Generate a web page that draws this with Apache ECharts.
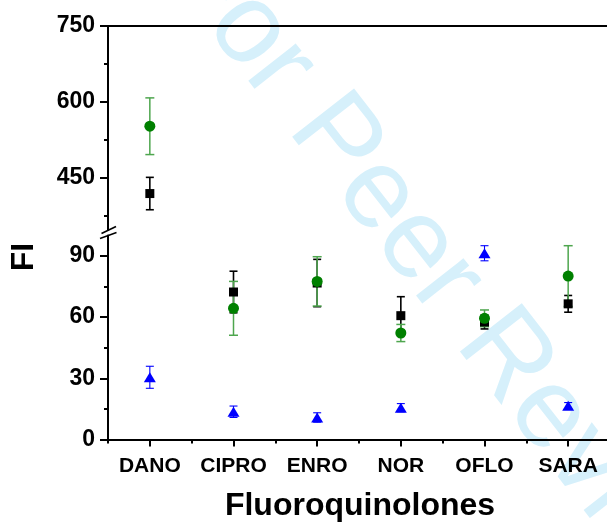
<!DOCTYPE html>
<html>
<head>
<meta charset="utf-8">
<script src="https://cdn.jsdelivr.net/npm/echarts@6/dist/echarts.min.js"></script>
<style>
  html, body { margin: 0; padding: 0; background: #fff; }
  #chart { width: 607px; height: 523px; }
</style>
</head>
<body>
<div id="chart"></div>
<script>
// data
const categories = ['DANO', 'CIPRO', 'ENRO', 'NOR', 'OFLO', 'SARA'];
const blackMean = [419, 72.3, 76.7, 60.7, 57.6, 66.5];
const blackErr = [32, 10.2, 11.6, 9.3, 3.4, 4.1];
const greenMean = [552, 64.3, 77.5, 52.2, 59.4, 80.1];
const greenErr = [56, 13.2, 12.1, 4.2, 4.1, 14.9];
const blueMean = [30.5, 13.6, 10.8, 15.6, 91.3, 16.6];
const blueErr = [5.4, 2.8, 2.3, 2.0, 3.7, 1.5];

const upperTicks = [450, 600, 750];
const upperMinor = [375, 525, 675];
const lowerTicks = [0, 30, 60, 90];
const lowerMinor = [15, 45, 75];
const catPos = [1, 2, 3, 4, 5, 6];
const catMinor = [0.5, 1.5, 2.5, 3.5, 4.5, 5.5, 6.5];

// layout
const axisX = 108;
const upperTop = 26, upperBottom = 230;
const lowerTop = 235.5, lowerBottom = 439.5;
const upperMin = 347, upperMax = 750;
const lowerMin = 0, lowerMax = 100;
const FONT = '"Liberation Sans", Arial, sans-serif';

// watermark: baseline start, angle, size
const wmAngle = 52 * Math.PI / 180;
const wmSize = 114;
const wmStart = [155, -25];
const wmUp = 0.35 * wmSize;
const wmX = wmStart[0] + wmUp * Math.sin(wmAngle);
const wmY = wmStart[1] - wmUp * Math.cos(wmAngle);

const chart = echarts.init(document.getElementById('chart'));

const baseLine = { show: true, lineStyle: { color: '#000', width: 2 } };

function xAxisDef(gridIndex, extra) {
  return Object.assign({
    type: 'value', gridIndex, min: 0.5, max: 6.5,
    splitLine: { show: false },
    axisLine: { show: false },
    axisTick: { show: false },
    axisLabel: { show: false }
  }, extra);
}
function yAxisDef(gridIndex, min, max, extra) {
  return Object.assign({
    type: 'value', gridIndex, min, max, position: 'left',
    splitLine: { show: false },
    axisLine: { show: false },
    axisTick: { show: false },
    axisLabel: { show: false }
  }, extra);
}

const yLabel = {
  show: true, color: '#000', fontFamily: FONT, fontWeight: 'bold', fontSize: 23, margin: 13
};

function errSeries(mean, err, color, lw, capW, panel) {
  const data = [];
  mean.forEach((m, i) => {
    const up = m > lowerMax;
    if ((panel === 0) === up) data.push([i + 1, m, err[i]]);
  });
  return {
    type: 'custom',
    xAxisIndex: panel === 0 ? 0 : 2,
    yAxisIndex: panel === 0 ? 0 : 2,
    silent: true,
    z: 3,
    data,
    renderItem(params, api) {
      const x = api.value(0), y = api.value(1), e = api.value(2);
      const hi = api.coord([x, y + e]);
      const lo = api.coord([x, y - e]);
      const st = { stroke: color, lineWidth: lw };
      const h = capW / 2;
      return {
        type: 'group',
        children: [
          { type: 'line', shape: { x1: hi[0], y1: hi[1], x2: lo[0], y2: lo[1] }, style: st },
          { type: 'line', shape: { x1: hi[0] - h, y1: hi[1], x2: hi[0] + h, y2: hi[1] }, style: st },
          { type: 'line', shape: { x1: lo[0] - h, y1: lo[1], x2: lo[0] + h, y2: lo[1] }, style: st }
        ]
      };
    }
  };
}

function markSeries(mean, color, symbol, size, panel) {
  const data = [];
  mean.forEach((m, i) => {
    const up = m > lowerMax;
    if ((panel === 0) === up) data.push([i + 1, m]);
  });
  return {
    type: 'scatter',
    xAxisIndex: panel === 0 ? 0 : 2,
    yAxisIndex: panel === 0 ? 0 : 2,
    symbol, symbolSize: size,
    itemStyle: { color, opacity: 1 },
    silent: true,
    z: 4,
    data
  };
}

const series = [];
[0, 1].forEach(p => {
  series.push(errSeries(blackMean, blackErr, '#000000', 1.6, 8, p));
  series.push(markSeries(blackMean, '#000000', 'rect', 9, p));
  series.push(errSeries(greenMean, greenErr, '#4ea64e', 1.5, 9, p));
  series.push(markSeries(greenMean, '#008000', 'circle', 11, p));
  series.push(errSeries(blueMean, blueErr, '#0000ff', 1.1, 8, p));
  series.push(markSeries(blueMean, '#0000ff', 'triangle', [12, 10], p));
});

const option = {
  backgroundColor: '#ffffff',
  animation: false,
  grid: [
    { left: axisX, right: -3, top: upperTop, height: upperBottom - upperTop, containLabel: false, outerBoundsMode: 'none' },
    { left: axisX, right: -3, top: lowerTop, height: lowerBottom - lowerTop, containLabel: false, outerBoundsMode: 'none' }
  ],
  xAxis: [
    xAxisDef(0, { position: 'top', axisLine: baseLine }),
    xAxisDef(0, { position: 'bottom' }),
    xAxisDef(1, {
      position: 'bottom',
      axisLine: baseLine,
      axisTick: { show: true, inside: false, length: 7, customValues: catPos, lineStyle: { color: '#000', width: 2 } },
      axisLabel: {
        show: true, customValues: catPos, color: '#000', fontFamily: FONT, fontWeight: 'bold',
        fontSize: 21, margin: 16,
        formatter: v => categories[Math.round(v) - 1] || ''
      }
    }),
    xAxisDef(1, {
      position: 'bottom',
      axisTick: { show: true, inside: false, length: 4, customValues: catMinor, lineStyle: { color: '#000', width: 2 } }
    })
  ],
  yAxis: [
    yAxisDef(0, upperMin, upperMax, {
      axisLine: baseLine,
      axisTick: { show: true, inside: false, length: 8, customValues: upperTicks, lineStyle: { color: '#000', width: 2 } },
      axisLabel: Object.assign({ customValues: upperTicks }, yLabel)
    }),
    yAxisDef(0, upperMin, upperMax, {
      axisTick: { show: true, inside: false, length: 4, customValues: upperMinor, lineStyle: { color: '#000', width: 2 } }
    }),
    yAxisDef(1, lowerMin, lowerMax, {
      axisLine: baseLine,
      axisTick: { show: true, inside: false, length: 8, customValues: lowerTicks, lineStyle: { color: '#000', width: 2 } },
      axisLabel: Object.assign({ customValues: lowerTicks }, yLabel)
    }),
    yAxisDef(1, lowerMin, lowerMax, {
      axisTick: { show: true, inside: false, length: 4, customValues: lowerMinor, lineStyle: { color: '#000', width: 2 } }
    })
  ],
  graphic: [
    { // watermark
      type: 'text', z: -10, silent: true,
      x: wmX, y: wmY, rotation: -wmAngle,
      style: {
        text: 'For Peer Review', fill: '#d6f0fb',
        font: wmSize + 'px "Liberation Sans", Arial, sans-serif',
        textAlign: 'left', textVerticalAlign: 'middle'
      }
    },
    { // axis break marks
      type: 'line', z: 10, silent: true,
      shape: { x1: axisX - 6.5, y1: upperBottom + 3.5, x2: axisX + 8, y2: upperBottom - 3.5 },
      style: { stroke: '#000', lineWidth: 1.6 }
    },
    {
      type: 'line', z: 10, silent: true,
      shape: { x1: axisX - 8, y1: lowerTop + 3, x2: axisX + 8.5, y2: lowerTop - 3 },
      style: { stroke: '#000', lineWidth: 1.6 }
    },
    {
      type: 'text', silent: true, x: 24, y: 257, rotation: Math.PI / 2,
      style: {
        text: 'FI', fill: '#000', font: 'bold 32px ' + FONT,
        textAlign: 'center', textVerticalAlign: 'middle'
      }
    },
    {
      type: 'text', silent: true, x: 360, y: 506,
      style: {
        text: 'Fluoroquinolones', fill: '#000', font: 'bold 32px ' + FONT,
        textAlign: 'center', textVerticalAlign: 'middle'
      }
    }
  ],
  series
};

chart.setOption(option);
</script>
</body>
</html>
